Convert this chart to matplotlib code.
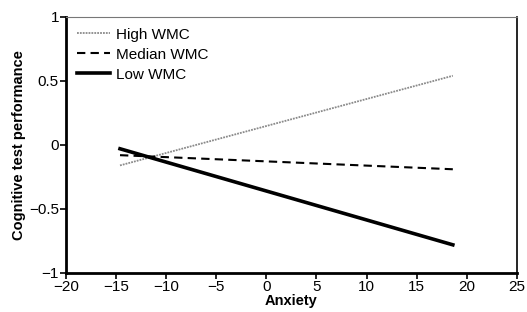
import matplotlib
matplotlib.use('Agg')
import matplotlib.pyplot as plt

plt.rcParams['font.family'] = ['Liberation Sans', 'DejaVu Sans']

# anxiety range for the simple slopes
anxiety = [-14.6, 18.6]

# predicted cognitive test performance
high_wmc = [-0.16, 0.54]
median_wmc = [-0.08, -0.19]
low_wmc = [-0.03, -0.78]

fig = plt.figure(figsize=(5.27, 3.12), dpi=100)
ax = fig.add_axes([0.125, 0.125, 0.856, 0.821])

ax.plot(anxiety, high_wmc, color='#8a8a8a', lw=1.3, linestyle=(0, (1, 0.6)), label='High WMC')
ax.plot(anxiety, median_wmc, color='black', lw=1.5, linestyle=(0, (4, 2.5)), label='Median WMC')
ax.plot(anxiety, low_wmc, color='black', lw=2.6, label='Low WMC')

ax.set_xlim(-20, 25)
ax.set_ylim(-1, 1)
ax.set_xticks(range(-20, 26, 5))
ax.set_yticks([-1, -0.5, 0, 0.5, 1])
ax.set_yticklabels(['\u22121', '\u22120.5', '0', '0.5', '1'])
ax.set_xticklabels(['\u221220', '\u221215', '\u221210', '\u22125', '0', '5', '10', '15', '20', '25'])

ax.spines['left'].set_linewidth(2)
ax.spines['bottom'].set_linewidth(2)
ax.spines['top'].set_linewidth(0.8)
ax.spines['right'].set_linewidth(1.2)
ax.spines['top'].set_color('#777777')
ax.tick_params(axis='both', direction='out', length=4, width=1.2, labelsize=11, pad=1)
ax.tick_params(top=False, right=False)

ax.set_xlabel('Anxiety', fontsize=10.5, fontweight='bold', labelpad=0)
ax.set_ylabel('Cognitive test performance', fontsize=10.5, fontweight='bold', labelpad=2)

ax.legend(loc='upper left', frameon=False, fontsize=11, handlelength=2.2,
          handletextpad=0.4, labelspacing=0.4, borderaxespad=0.3)

fig.savefig('out.png', dpi=100)
